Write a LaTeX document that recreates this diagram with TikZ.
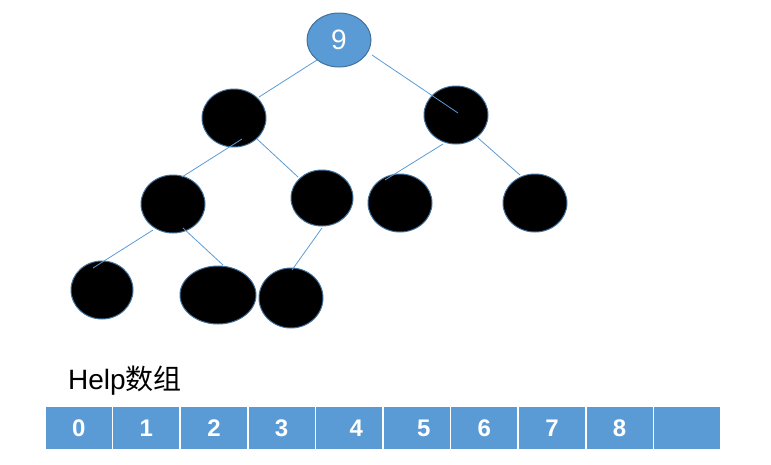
\documentclass[tikz,border=0pt]{standalone}
\usepackage{fontspec}
\setmainfont{Liberation Sans}
\newfontfamily\cjk{Noto Sans CJK SC}
\usepackage{tikz}
\usetikzlibrary{shapes.geometric}
\definecolor{CellBlue}{HTML}{5B9BD5}
\definecolor{EdgeBlue}{HTML}{41719C}

\begin{document}
\begin{tikzpicture}[
    x=1pt, y=-1pt,
    heapnode/.style={ellipse, draw=EdgeBlue, line width=1pt, fill=black, inner sep=0pt, minimum width=64pt, minimum height=58pt},
    rootnode/.style={heapnode, fill=CellBlue, minimum height=54pt, text=white, font=\fontsize{28}{32}\selectfont},
    cell/.style={rectangle, draw=white, line width=1.5pt, fill=CellBlue, minimum width=67.6pt, minimum height=44pt, inner sep=0pt, text=white, font=\bfseries\fontsize{24}{28}\selectfont},
    link/.style={draw=CellBlue, line width=0.8pt}
]
\useasboundingbox (0,0) rectangle (771,464);
% heap
\node[rootnode] (root) at (339,40) {9};
\node[heapnode] (la) at (234,118) {};
\node[heapnode] (lb) at (456,115) {};
\node[heapnode] (ma) at (173,204) {};
\node[heapnode, minimum width=62pt, minimum height=56pt] (mb) at (322,198) {};
\node[heapnode] (mc) at (400,203) {};
\node[heapnode] (md) at (535,203) {};
\node[heapnode, minimum width=62pt] (na) at (102,290) {};
\node[heapnode, minimum width=76pt] (nb) at (218,295) {};
\node[heapnode, minimum height=60pt] (nc) at (291,298) {};
\draw[link] ([shift={(-22,20)}]root.center) -- ([shift={(25,-21)}]la.center);
\draw[link] ([shift={(33,15)}]root.center) -- ([shift={(2,-2)}]lb.center);
\draw[link] ([shift={(8,21)}]la.center) -- ([shift={(9,-27)}]ma.center);
\draw[link] ([shift={(23,21)}]la.center) -- ([shift={(-24,-21)}]mb.center);
\draw[link] ([shift={(-13,29)}]lb.center) -- ([shift={(-15,-23)}]mc.center);
\draw[link] ([shift={(22,23)}]lb.center) -- ([shift={(-15,-28)}]md.center);
\draw[link] ([shift={(-20,26)}]ma.center) -- ([shift={(-9,-22)}]na.center);
\draw[link] ([shift={(10,24)}]ma.center) -- ([shift={(5,-30)}]nb.center);
\draw[link] ([shift={(0,30)}]mb.center) -- ([shift={(1,-28)}]nc.center);
% help array
\node[anchor=base west, inner sep=0pt, font=\fontsize{28}{32}\selectfont] (title) at (68,389) {Help{\cjk 数组}};
\node[cell] (c0) at (78.8,428) {0};
\node[cell] (c1) at (146.4,428) {1};
\node[cell] (c2) at (214.0,428) {2};
\node[cell] (c3) at (281.6,428) {3};
\node[cell] (c4) at (349.2,428) {\hspace*{14pt}4};
\node[cell] (c5) at (416.8,428) {\hspace*{14pt}5};
\node[cell] (c6) at (484.4,428) {6};
\node[cell] (c7) at (552.0,428) {7};
\node[cell] (c8) at (619.6,428) {8};
\node[cell] (c9) at (687.2,428) {};
\end{tikzpicture}
\end{document}
